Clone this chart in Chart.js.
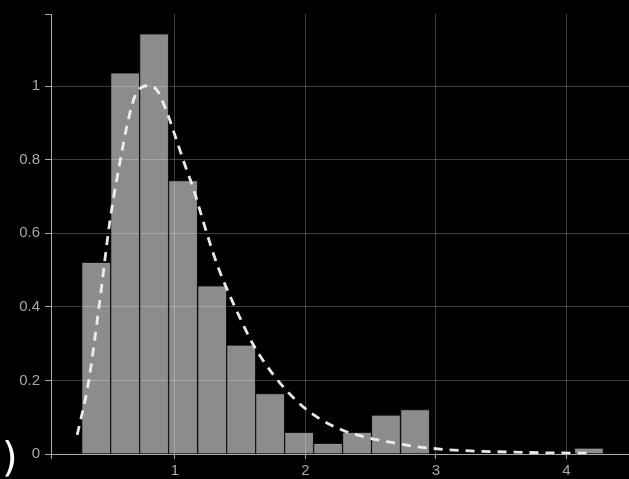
<!DOCTYPE html>
<html><head><meta charset="utf-8">
<script src="https://cdn.jsdelivr.net/npm/chart.js@4/dist/chart.umd.min.js"></script>
<style>
html,body{margin:0;padding:0;background:#000;overflow:hidden}
#wrap{position:relative;width:629px;height:479px;background:#000}
#c{display:block}
#paren{position:absolute;left:2px;top:437px;color:#fff;font-family:"DejaVu Sans",sans-serif;font-weight:400;font-size:40px;line-height:1}
</style></head><body>
<div id="wrap"><canvas id="c" width="629" height="479"></canvas><span id="paren">)</span></div>
<script>
// Histogram bins (centres) and densities
const binCenters = [0.396, 0.618, 0.840, 1.062, 1.285, 1.507, 1.729, 1.951, 2.173, 2.395, 2.617, 2.840, 3.062, 3.284, 3.506, 3.728, 3.950, 4.172];
const densities  = [0.521, 1.036, 1.142, 0.743, 0.457, 0.296, 0.164, 0.059, 0.029, 0.059, 0.106, 0.121, 0, 0, 0, 0, 0, 0.016];
// Fitted density curve (dashed)
const curveX = [0.251, 0.336, 0.418, 0.502, 0.573, 0.642, 0.693, 0.783, 0.860, 0.936, 1.000, 1.064, 1.140, 1.205, 1.260, 1.332, 1.421, 1.498, 1.600, 1.753, 1.933, 2.111, 2.290, 2.469, 2.648, 2.852, 3.082, 3.300, 3.600, 3.900, 4.200];
const curveY = [0.052, 0.192, 0.400, 0.635, 0.783, 0.908, 0.972, 1.001, 0.990, 0.931, 0.866, 0.798, 0.722, 0.646, 0.582, 0.506, 0.430, 0.370, 0.297, 0.216, 0.144, 0.095, 0.064, 0.045, 0.032, 0.020, 0.012, 0.008, 0.005, 0.003, 0.002];
// Axis ticks
const xTickValues = [1, 2, 3, 4];
const yTickValues = [0, 0.2, 0.4, 0.6, 0.8, 1];
const X_MIN = 0.05, X_MAX = 4.479, Y_MIN = 0, Y_MAX = 1.196;

const axisCol = '#a8a8a8';
const gridCol = 'rgba(255,255,255,0.24)';
const labelCol = '#a8a8a8';
const tickFont = {family: '"Liberation Sans", Arial, sans-serif', size: 15};

const barData = binCenters.map((x, i) => ({x: x, y: densities[i]}));
const lineData = curveX.map((x, i) => ({x: x, y: curveY[i]}));

new Chart(document.getElementById('c'), {
  type: 'bar',
  data: {
    datasets: [
      {
        type: 'line',
        data: lineData,
        borderColor: 'rgba(240,240,240,0.97)',
        borderWidth: 2.8,
        borderDash: [9, 7],
        pointRadius: 0,
        fill: false,
        cubicInterpolationMode: 'monotone',
        order: 0
      },
      {
        type: 'bar',
        data: barData,
        backgroundColor: 'rgba(255,255,255,0.55)',
        borderColor: 'rgba(20,20,20,1)',
        borderWidth: 1,
        borderSkipped: 'bottom',
        barPercentage: 1.0,
        categoryPercentage: 1.0,
        order: 1
      }
    ]
  },
  options: {
    responsive: false,
    animation: false,
    devicePixelRatio: 1,
    layout: {padding: {top: 10, left: 0, right: 0, bottom: 0}},
    plugins: {legend: {display: false}, tooltip: {enabled: false}},
    scales: {
      x: {
        type: 'linear',
        min: X_MIN, max: X_MAX,
        offset: false,
        afterBuildTicks: s => { s.ticks = [X_MIN].concat(xTickValues).map(v => ({value: v})); },
        afterFit: s => { s.height = 25; },
        border: {color: axisCol, width: 1},
        grid: {
          offset: false,
          color: c => (c.tick && xTickValues.includes(c.tick.value)) ? gridCol : 'rgba(0,0,0,0)',
          tickColor: axisCol,
          tickLength: 5,
          lineWidth: 1
        },
        ticks: {
          color: labelCol, font: tickFont, padding: 3, maxRotation: 0, autoSkip: false,
          callback: v => xTickValues.includes(v) ? String(v) : ''
        }
      },
      y: {
        type: 'linear',
        min: Y_MIN, max: Y_MAX,
        afterBuildTicks: s => { s.ticks = yTickValues.concat([Y_MAX]).map(v => ({value: v})); },
        afterFit: s => { s.width = 51; },
        border: {color: axisCol, width: 1},
        grid: {
          color: c => (c.tick && c.tick.value > 0 && yTickValues.includes(c.tick.value)) ? gridCol : 'rgba(0,0,0,0)',
          tickColor: axisCol,
          tickLength: 6,
          lineWidth: 1
        },
        ticks: {
          color: labelCol, font: tickFont, padding: 5, autoSkip: false,
          callback: v => yTickValues.includes(v) ? String(v) : ''
        }
      }
    }
  }
});
</script>
</body></html>
